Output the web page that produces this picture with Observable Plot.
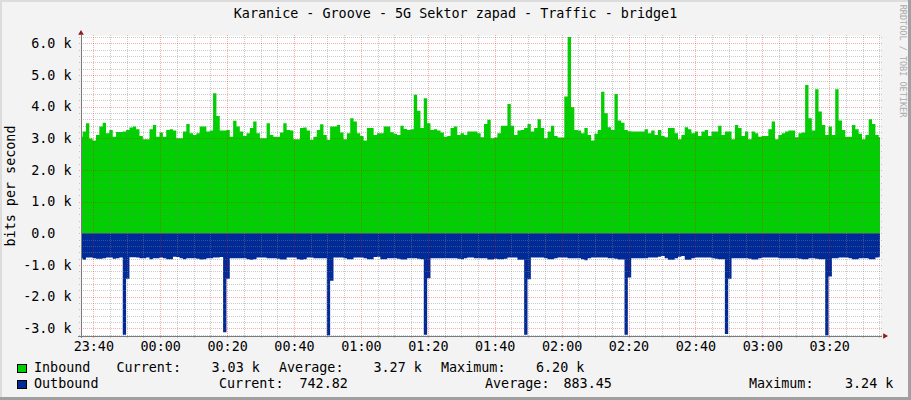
<!DOCTYPE html>
<html>
<head>
<meta charset="utf-8">
<script src="https://cdn.jsdelivr.net/npm/d3@7"></script>
<script src="https://cdn.jsdelivr.net/npm/@observablehq/plot@0.6"></script>
<style>
  html, body { margin: 0; padding: 0; background: #F3F3F3; }
  #chart {
    position: relative; width: 911px; height: 400px; overflow: hidden;
    background: #F3F3F3;
    box-shadow: inset -3px -3px 0 #A0A0A0, inset 2px 2px 0 #DCDCDC;
    font-family: "DejaVu Sans Mono", monospace; font-size: 13.4px; color: #000;
  }
  #chart svg { position: absolute; left: 0; top: 0; }
  .t { position: absolute; white-space: pre; line-height: 16px; }
  .box { position: absolute; width: 10px; height: 9px; box-sizing: border-box; border: 1px solid #000; }
</style>
</head>
<body>
<div id="chart"></div>
<script>
// ---- data (kbit/s), one sample per minute, first sample at 23:36:18 ----
const inboundK = [
  3.05, 3.21, 3.47, 2.99, 2.93, 3.10, 3.37, 3.49, 3.16, 3.26,
  3.05, 3.20, 3.20, 3.21, 3.26, 3.34, 3.37, 3.28, 3.07, 2.97,
  2.97, 3.28, 3.42, 3.05, 3.18, 3.05, 3.26, 3.28, 3.24, 3.00,
  3.00, 3.21, 3.45, 3.16, 3.10, 3.16, 3.37, 3.37, 3.21, 3.24,
  4.42, 3.70, 3.24, 3.24, 3.26, 3.05, 3.55, 3.37, 3.21, 3.07,
  3.16, 3.32, 3.53, 3.16, 3.00, 3.00, 3.47, 3.10, 3.05, 3.05,
  3.18, 3.47, 3.26, 3.24, 2.97, 2.97, 3.32, 3.34, 3.24, 2.95,
  3.05, 3.26, 3.44, 3.10, 2.95, 3.37, 3.37, 3.42, 3.18, 2.97,
  3.16, 3.63, 3.53, 3.16, 3.07, 2.93, 3.32, 3.32, 3.10, 3.16,
  3.16, 3.37, 3.37, 3.19, 3.14, 3.10, 3.39, 3.29, 3.26, 3.28,
  4.37, 3.87, 3.32, 4.26, 3.47, 3.26, 3.28, 3.24, 3.18, 3.05,
  3.07, 3.32, 3.37, 3.10, 3.16, 3.10, 3.21, 3.21, 3.21, 3.16,
  3.03, 3.45, 3.58, 3.00, 3.02, 3.16, 3.39, 3.39, 4.08, 3.39,
  3.10, 3.24, 3.26, 3.32, 3.45, 3.21, 3.32, 3.60, 3.32, 3.00,
  3.21, 3.39, 3.07, 3.02, 3.02, 4.32, 6.20, 3.98, 3.26, 3.24,
  3.16, 3.32, 3.10, 2.93, 3.14, 3.26, 4.47, 3.79, 3.35, 3.26,
  4.40, 3.56, 3.49, 3.26, 3.22, 3.21, 3.21, 3.21, 3.21, 3.28,
  3.16, 3.24, 3.10, 3.26, 3.07, 3.03, 3.32, 3.32, 3.16, 2.97,
  3.10, 3.35, 3.28, 3.16, 3.21, 3.07, 3.21, 3.26, 3.07, 3.21,
  3.21, 3.39, 3.10, 3.21, 3.21, 2.97, 3.42, 3.32, 3.07, 3.21,
  2.97, 3.21, 3.16, 3.05, 3.07, 3.07, 3.28, 3.53, 2.97, 3.10,
  3.16, 3.21, 3.24, 3.24, 3.03, 3.16, 3.18, 4.68, 3.63, 3.24,
  4.55, 3.84, 3.42, 3.10, 3.37, 3.10, 4.55, 3.56, 3.26, 3.05,
  3.05, 3.42, 3.28, 3.14, 2.97, 3.10, 3.60, 3.45, 3.10, 3.03
];
const outboundK = [
  0.79, 0.84, 0.77, 0.77, 0.79, 0.81, 0.81, 0.79, 0.77, 0.77,
  0.81, 0.79, 0.77, 3.21, 1.44, 0.76, 0.76, 0.77, 0.79, 0.79,
  0.77, 0.82, 0.79, 0.79, 0.77, 0.79, 0.82, 0.82, 0.74, 0.75,
  0.79, 0.82, 0.79, 0.79, 0.79, 0.81, 0.83, 0.82, 0.79, 0.79,
  0.77, 0.77, 0.75, 3.13, 1.44, 0.79, 0.79, 0.79, 0.79, 0.79,
  0.82, 0.84, 0.82, 0.77, 0.77, 0.77, 0.79, 0.79, 0.79, 0.81,
  0.83, 0.83, 0.77, 0.77, 0.77, 0.82, 0.84, 0.82, 0.77, 0.77,
  0.79, 0.79, 0.79, 0.79, 3.24, 1.50, 0.77, 0.77, 0.77, 0.79,
  0.82, 0.82, 0.77, 0.77, 0.77, 0.79, 0.82, 0.82, 0.75, 0.74,
  0.82, 0.82, 0.79, 0.79, 0.79, 0.81, 0.83, 0.83, 0.79, 0.79,
  0.79, 0.81, 0.82, 3.21, 1.42, 0.79, 0.79, 0.79, 0.79, 0.79,
  0.79, 0.79, 0.79, 0.81, 0.82, 0.79, 0.77, 0.77, 0.79, 0.79,
  0.79, 0.79, 0.83, 0.83, 0.81, 0.82, 0.82, 0.81, 0.77, 0.77,
  0.77, 0.84, 0.84, 3.21, 1.45, 0.77, 0.77, 0.77, 0.77, 0.79,
  0.82, 0.82, 0.79, 0.77, 0.77, 0.77, 0.79, 0.79, 0.79, 0.79,
  0.82, 0.85, 0.79, 0.77, 0.77, 0.77, 0.77, 0.77, 0.79, 0.79,
  0.81, 0.83, 0.83, 3.21, 1.40, 0.79, 0.79, 0.79, 0.79, 0.79,
  0.77, 0.77, 0.77, 0.74, 0.72, 0.79, 0.84, 0.84, 0.79, 0.74,
  0.72, 0.84, 0.84, 0.79, 0.77, 0.77, 0.77, 0.77, 0.77, 0.79,
  0.81, 0.82, 0.82, 3.18, 1.44, 0.79, 0.79, 0.79, 0.79, 0.79,
  0.81, 0.83, 0.83, 0.79, 0.77, 0.77, 0.77, 0.77, 0.77, 0.79,
  0.79, 0.79, 0.79, 0.79, 0.79, 0.81, 0.82, 0.82, 0.79, 0.79,
  0.81, 0.82, 0.82, 3.24, 1.37, 0.79, 0.79, 0.77, 0.77, 0.77,
  0.79, 0.82, 0.82, 0.79, 0.79, 0.79, 0.82, 0.82, 0.77, 0.743
];
const firstSampleMinute = 36.3;            // minutes after 23:00
const xDomain = [36.32, 275.18];           // minutes after 23:00
const yDomain = [-3.23, 6.25];             // kbit/s
const xTickMinutes = [40, 60, 80, 100, 120, 140, 160, 180, 200, 220, 240, 260];
const xTickLabels = ["23:40", "00:00", "00:20", "00:40", "01:00", "01:20", "01:40", "02:00", "02:20", "02:40", "03:00", "03:20"];
const yTickValues = [6, 5, 4, 3, 2, 1, 0, -1, -2, -3];
const yTickLabels = ["6.0 k", "5.0 k", "4.0 k", "3.0 k", "2.0 k", "1.0 k", "0.0\u00a0\u00a0", "-1.0 k", "-2.0 k", "-3.0 k"];
const titleText = "Karanice - Groove - 5G Sektor zapad - Traffic - bridge1";
const yLabel = "bits per second";
const legendRows = [
  {name: "Inbound",  color: "#00CF00", cur: "3.03 k", avg: "3.27 k", max: "6.20 k"},
  {name: "Outbound", color: "#002A97", cur: "742.82", avg: "883.45", max: "3.24 k"}
];

// ---- build ----
const inbound = inboundK.map((v, i) => ({t: firstSampleMinute + i, v}));
const outbound = outboundK.map((v, i) => ({t: firstSampleMinute + i, v: -v}));
const xTicks = xTickMinutes.map((m, i) => ({m, label: xTickLabels[i]}));
const yTicks = yTickValues.map((v, i) => ({v, label: yTickLabels[i]}));
const minorX = d3.range(45, 276, 5).filter(m => m % 20 !== 0);
const minorY = d3.range(-32, 63, 2).map(d => d / 10).filter(d => Math.abs(d - Math.round(d)) > 1e-9);

const FONT = "DejaVu Sans Mono";
const xPad = 0.6, yPad = 0.08;
const gridMinor = {stroke: "#808080", strokeOpacity: 0.42, strokeDasharray: "1,1", shapeRendering: "crispEdges"};
const gridMajor = {stroke: "#FF0000", strokeOpacity: 0.33, strokeDasharray: "1,1", shapeRendering: "crispEdges"};
const axisColor = "#7A7A7A";
const arrowColor = "#8B1A1A";

const plot = Plot.plot({
  width: 911, height: 360,
  marginLeft: 81, marginRight: 31, marginTop: 35.3, marginBottom: 24.5,
  style: {background: "transparent", overflow: "visible"},
  x: {domain: xDomain, axis: null},
  y: {domain: yDomain, axis: null},
  marks: [
    Plot.frame({fill: "white", stroke: "none"}),
    Plot.areaY(inbound, {x: "t", y: "v", fill: "#00CF00", curve: "step", clip: true}),
    Plot.areaY(outbound, {x: "t", y: "v", fill: "#002A97", curve: "step", clip: true}),
    Plot.ruleX(minorX, {x: d => d, y1: () => yDomain[0] - yPad, y2: () => yDomain[1], ...gridMinor}),
    Plot.ruleY(minorY, {y: d => d, x1: () => xDomain[0] - xPad, x2: () => xDomain[1] + xPad, ...gridMinor}),
    Plot.ruleX(xTicks, {x: "m", y1: () => yDomain[0] - yPad, y2: () => yDomain[1], ...gridMajor}),
    Plot.ruleY(yTicks, {y: "v", x1: () => xDomain[0] - xPad, x2: () => xDomain[1] + xPad, ...gridMajor}),
    Plot.ruleX([xDomain[0]], {x: d => d, y1: () => yDomain[0] - 0.09, y2: () => yDomain[1], stroke: axisColor, dx: -0.5, shapeRendering: "crispEdges"}),
    Plot.ruleY([yDomain[0]], {y: d => d, x1: () => xDomain[0] - 1.0, x2: () => xDomain[1] + 0.6, stroke: axisColor, shapeRendering: "crispEdges"}),
    Plot.dot([{x: xDomain[0], y: yDomain[1]}], {x: "x", y: "y", symbol: "triangle", r: 2.1, fill: arrowColor, stroke: "none", dx: -0.5, dy: -2.6}),
    Plot.dot([{x: xDomain[1], y: yDomain[0]}], {x: "x", y: "y", symbol: "triangle", r: 2.1, fill: arrowColor, stroke: "none", rotate: 90, dx: 4.3}),
    Plot.text(yTicks, {x: () => xDomain[0], y: "v", text: "label", textAnchor: "end", dx: -10, fontFamily: FONT, fontSize: 13.4, fill: "#000"}),
    Plot.text(xTicks, {x: "m", y: () => yDomain[0], text: "label", dy: 11, fontFamily: FONT, fontSize: 13.4, fill: "#000"})
  ]
});

const chart = document.getElementById("chart");
chart.appendChild(plot);

function addText(txt, left, top, extra) {
  const d = document.createElement("div");
  d.className = "t";
  d.textContent = txt;
  d.style.left = left + "px";
  d.style.top = top + "px";
  if (extra) Object.assign(d.style, extra);
  chart.appendChild(d);
  return d;
}
// title
addText(titleText, 0, 6, {width: "911px", textAlign: "center"});
// y label
addText(yLabel, 10.5, 186, {transform: "translate(-50%,-50%) rotate(-90deg)"});
// watermark
addText("RRDTOOL / TOBI OETIKER", 903, 61, {transform: "translate(-50%,-50%) rotate(90deg)", fontSize: "8.5px", lineHeight: "10px", color: "#AAAAAA"});

// legend
const rowTops = [359.8, 375.8];
const boxTops = [364, 380];
const cols = [
  {cur: 116.5, curV: 211.5, avg: 279, avgV: 373.5, max: 441, maxV: 536},
  {cur: 219, curV: 299.5, avg: 485, avgV: 563.5, max: 749, maxV: 845}
];
legendRows.forEach((r, i) => {
  const b = document.createElement("div");
  b.className = "box";
  b.style.left = "17px"; b.style.top = boxTops[i] + "px"; b.style.background = r.color;
  chart.appendChild(b);
  const c = cols[i], t = rowTops[i];
  addText(r.name, 34, t);
  addText("Current:", c.cur, t);
  addText(r.cur, c.curV, t);
  addText("Average:", c.avg, t);
  addText(r.avg, c.avgV, t);
  addText("Maximum:", c.max, t);
  addText(r.max, c.maxV, t);
});
</script>
</body>
</html>
